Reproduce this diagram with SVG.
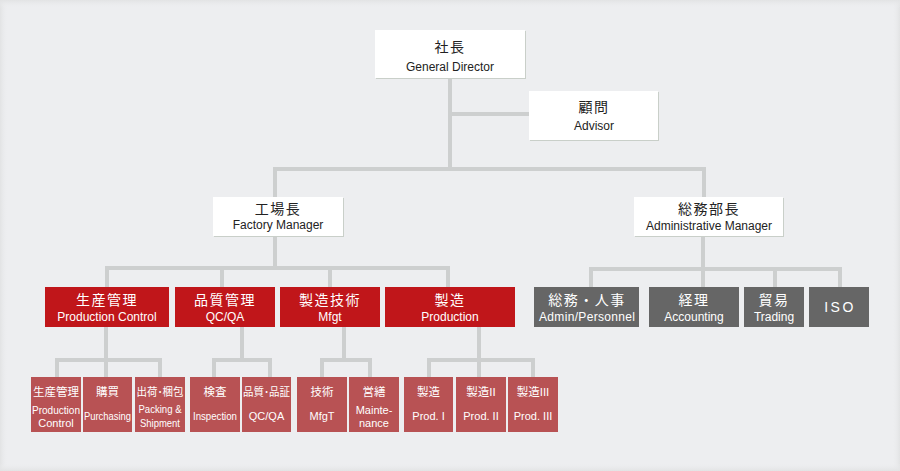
<svg xmlns="http://www.w3.org/2000/svg" width="900" height="471" viewBox="0 0 900 471">
<style>
.bg{fill:#edeef0}
.wbox{fill:#ffffff}
.wsh{fill:#c9cfc9}
.red{fill:#c0161a}
.gray{fill:#666666}
.sm{fill:#b85254}
.ln{stroke:#cdcfcf;stroke-width:4;fill:none;stroke-linecap:square}
text{font-family:"Liberation Sans","Noto Sans CJK JP",sans-serif;text-anchor:middle}
.jp{font-size:14px;letter-spacing:1.5px}
.en{font-size:12px}
.dk{fill:#222222}
.wt{fill:#ffffff}
.sjp{font-size:11.5px}
.sen{font-size:11px}
</style>
<defs>
<linearGradient id="gl" x1="0" x2="1" y1="0" y2="0"><stop offset="0" stop-color="#e2e3e4"/><stop offset="1" stop-color="#edeef0" stop-opacity="0"/></linearGradient>
<linearGradient id="gr" x1="1" x2="0" y1="0" y2="0"><stop offset="0" stop-color="#e2e3e4"/><stop offset="1" stop-color="#edeef0" stop-opacity="0"/></linearGradient>
<linearGradient id="gt" x1="0" x2="0" y1="0" y2="1"><stop offset="0" stop-color="#e2e3e4"/><stop offset="1" stop-color="#edeef0" stop-opacity="0"/></linearGradient>
<linearGradient id="gb" x1="0" x2="0" y1="1" y2="0"><stop offset="0" stop-color="#e2e3e4"/><stop offset="1" stop-color="#edeef0" stop-opacity="0"/></linearGradient>
</defs>
<rect class="bg" x="0" y="0" width="900" height="471"/>
<rect x="0" y="0" width="8" height="471" fill="url(#gl)"/>
<rect x="892" y="0" width="8" height="471" fill="url(#gr)"/>
<rect x="0" y="0" width="900" height="8" fill="url(#gt)"/>
<rect x="0" y="463" width="900" height="8" fill="url(#gb)"/>

<g id="connectors">
<path class="ln" d="M450 79 V169 M450 114 H529 M275 169 H704 M275 169 V197 M704 169 V197"/>
<path class="ln" d="M275 236 V268 M107 268 H448 M107 268 V287 M222 268 V287 M330 268 V287 M448 268 V287"/>
<path class="ln" d="M703 236 V269 M591 269 H840 M591 269 V287 M703 269 V287 M775 269 V287 M840 269 V287"/>
<path class="ln" d="M106 327 V377 M57 360 H160 M57 360 V377 M160 360 V377"/>
<path class="ln" d="M242 327 V360 M214 360 H270 M214 360 V377 M270 360 V377"/>
<path class="ln" d="M344 327 V360 M322 360 H370 M322 360 V377 M370 360 V377"/>
<path class="ln" d="M479 327 V377 M429 360 H533 M429 360 V377 M533 360 V377"/>
</g>

<g id="n-president">
<rect class="wsh" x="376" y="31" width="150" height="48"/>
<rect class="wbox" x="375" y="30" width="150" height="48"/>
<text class="jp dk" x="450" y="52">社長</text>
<text class="en dk" x="450" y="71">General Director</text>
</g>
<g id="n-advisor">
<rect class="wsh" x="530" y="92" width="129" height="49"/>
<rect class="wbox" x="529" y="91" width="129" height="49"/>
<text class="jp dk" x="594" y="112">顧問</text>
<text class="en dk" x="594" y="130">Advisor</text>
</g>
<g id="n-factory">
<rect class="wsh" x="214" y="198" width="130" height="39"/>
<rect class="wbox" x="213" y="197" width="130" height="39"/>
<text class="jp dk" x="278" y="214">工場長</text>
<text class="en dk" x="278" y="229">Factory Manager</text>
</g>
<g id="n-admin">
<rect class="wsh" x="635" y="198" width="149" height="39"/>
<rect class="wbox" x="634" y="197" width="149" height="39"/>
<text class="jp dk" x="709" y="214">総務部長</text>
<text class="en dk" x="709" y="230">Administrative Manager</text>
</g>

<g id="n-prodctrl">
<rect class="red" x="45" y="287" width="124" height="40"/>
<text class="jp wt" x="107" y="305">生産管理</text>
<text class="en wt" x="107" y="321">Production Control</text>
</g>
<g id="n-qcqa">
<rect class="red" x="175" y="287" width="100" height="40"/>
<text class="jp wt" x="225" y="305">品質管理</text>
<text class="en wt" x="225" y="321">QC/QA</text>
</g>
<g id="n-mfgt">
<rect class="red" x="280" y="287" width="100" height="40"/>
<text class="jp wt" x="330" y="305">製造技術</text>
<text class="en wt" x="330" y="321">Mfgt</text>
</g>
<g id="n-production">
<rect class="red" x="385" y="287" width="130" height="40"/>
<text class="jp wt" x="450" y="305">製造</text>
<text class="en wt" x="450" y="321">Production</text>
</g>

<g id="n-adminpers">
<rect class="gray" x="534" y="287" width="105" height="40"/>
<text class="jp wt" x="587" y="305">総務・人事</text>
<text class="en wt" x="587" y="321" textLength="96" lengthAdjust="spacing">Admin/Personnel</text>
</g>
<g id="n-accounting">
<rect class="gray" x="649" y="287" width="90" height="40"/>
<text class="jp wt" x="694" y="305">経理</text>
<text class="en wt" x="694" y="321">Accounting</text>
</g>
<g id="n-trading">
<rect class="gray" x="744" y="287" width="60" height="40"/>
<text class="jp wt" x="774" y="305">貿易</text>
<text class="en wt" x="774" y="321">Trading</text>
</g>
<g id="n-iso">
<rect class="gray" x="809" y="287" width="60" height="40"/>
<text class="wt" x="840" y="312" font-size="14" letter-spacing="2.5">ISO</text>
</g>

<g id="s-prodctrl">
<rect class="sm" x="31" y="377" width="50" height="55"/>
<text class="sjp wt" x="56" y="396" textLength="46" lengthAdjust="spacingAndGlyphs">生産管理</text>
<text class="sen wt" x="56" y="414" textLength="48" lengthAdjust="spacingAndGlyphs">Production</text>
<text class="sen wt" x="56" y="427">Control</text>
</g>
<g id="s-purchasing">
<rect class="sm" x="83" y="377" width="49" height="55"/>
<text class="sjp wt" x="107.5" y="396">購買</text>
<text class="sen wt" x="107.5" y="420" textLength="47" lengthAdjust="spacingAndGlyphs">Purchasing</text>
</g>
<g id="s-packing">
<rect class="sm" x="135" y="377" width="50" height="55"/>
<text class="sjp wt" x="160" y="396" textLength="47" lengthAdjust="spacingAndGlyphs">出荷･梱包</text>
<text class="sen wt" x="160" y="413" textLength="43" lengthAdjust="spacingAndGlyphs">Packing &amp;</text>
<text class="sen wt" x="160" y="427" textLength="40" lengthAdjust="spacingAndGlyphs">Shipment</text>
</g>
<g id="s-inspection">
<rect class="sm" x="190" y="377" width="50" height="55"/>
<text class="sjp wt" x="215" y="396">検査</text>
<text class="sen wt" x="215" y="420" textLength="44" lengthAdjust="spacingAndGlyphs">Inspection</text>
</g>
<g id="s-qcqa">
<rect class="sm" x="242" y="377" width="49" height="55"/>
<text class="sjp wt" x="266.5" y="396" textLength="47" lengthAdjust="spacingAndGlyphs">品質･品証</text>
<text class="sen wt" x="266.5" y="420">QC/QA</text>
</g>
<g id="s-mfgt">
<rect class="sm" x="297" y="377" width="50" height="55"/>
<text class="sjp wt" x="322" y="396">技術</text>
<text class="sen wt" x="322" y="420">MfgT</text>
</g>
<g id="s-maint">
<rect class="sm" x="349" y="377" width="50" height="55"/>
<text class="sjp wt" x="374" y="396">営繕</text>
<text class="sen wt" x="374" y="414">Mainte-</text>
<text class="sen wt" x="374" y="427">nance</text>
</g>
<g id="s-prod1">
<rect class="sm" x="404" y="377" width="49" height="55"/>
<text class="sjp wt" x="428.5" y="396">製造</text>
<text class="sen wt" x="428.5" y="420">Prod. I</text>
</g>
<g id="s-prod2">
<rect class="sm" x="456" y="377" width="50" height="55"/>
<text class="sjp wt" x="481" y="396">製造II</text>
<text class="sen wt" x="481" y="420">Prod. II</text>
</g>
<g id="s-prod3">
<rect class="sm" x="508" y="377" width="50" height="55"/>
<text class="sjp wt" x="533" y="396">製造III</text>
<text class="sen wt" x="533" y="420">Prod. III</text>
</g>
</svg>
